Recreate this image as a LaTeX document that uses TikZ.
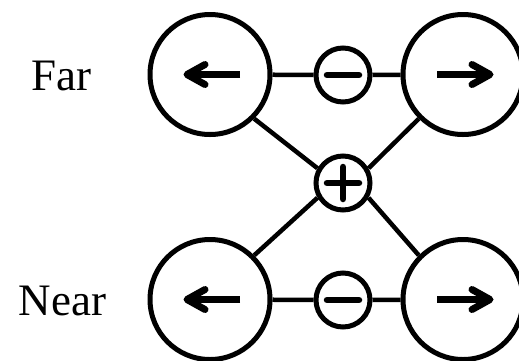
\documentclass[tikz,border=0pt]{standalone}
\usepackage{fontspec}
\setmainfont{Liberation Serif}
\tikzset{
  bigc/.style={draw, circle, minimum size=120pt, inner sep=0pt, line width=5pt},
  smallc/.style={draw, circle, minimum size=54pt, inner sep=0pt, line width=5pt},
  conn/.style={line width=4.5pt},
  sign/.style={line width=6.5pt, line cap=round},
  arrowline/.style={line width=7pt},
  lbl/.style={anchor=base, inner sep=0pt, font=\fontsize{45}{54}\selectfont},
  larrow/.pic={
    \draw[arrowline] (30,0) -- (-20,0);
    \draw[arrowline, line cap=round, line join=round] (-5,-10) -- (-23,0) -- (-5,10);
  },
  rarrow/.pic={
    \draw[arrowline] (-26,0) -- (24,0);
    \draw[arrowline, line cap=round, line join=round] (9,-10) -- (27,0) -- (9,10);
  },
  minussign/.pic={\draw[sign] (-16,0) -- (16,0);},
  plussign/.pic={\draw[sign] (-16,0) -- (16,0); \draw[sign] (0,-16) -- (0,16);}
}
\begin{document}
\begin{tikzpicture}[x=1pt,y=-1pt]
\useasboundingbox (0,0) rectangle (519,360);
\node[bigc] (tl) at (210,74.5) {};
\node[bigc] (tr) at (463,74.5) {};
\node[bigc] (bl) at (210,299.5) {};
\node[bigc] (br) at (463,299.5) {};
\node[smallc] (mt) at (343,75) {};
\node[smallc] (mb) at (343,300) {};
\node[smallc] (p) at (343,183) {};
\draw[conn] (tl) -- (mt);
\draw[conn] (mt) -- (tr);
\draw[conn] (bl) -- (mb);
\draw[conn] (mb) -- (br);
\draw[conn] (tl.-45) -- (p.150);
\draw[conn] (tr.-135) -- (p.30);
\draw[conn] (bl.45) -- (p.-150);
\draw[conn] (br.135) -- (p.-30);
\pic at (tl.center) {larrow};
\pic at (bl.center) {larrow};
\pic at (tr.center) {rarrow};
\pic at (br.center) {rarrow};
\pic at (mt.center) {minussign};
\pic at (mb.center) {minussign};
\pic at (p.center) {plussign};
\node[lbl] (far) at (61.5,90) {Far};
\node[lbl] (near) at (62.5,315) {Near};
\end{tikzpicture}
\end{document}
